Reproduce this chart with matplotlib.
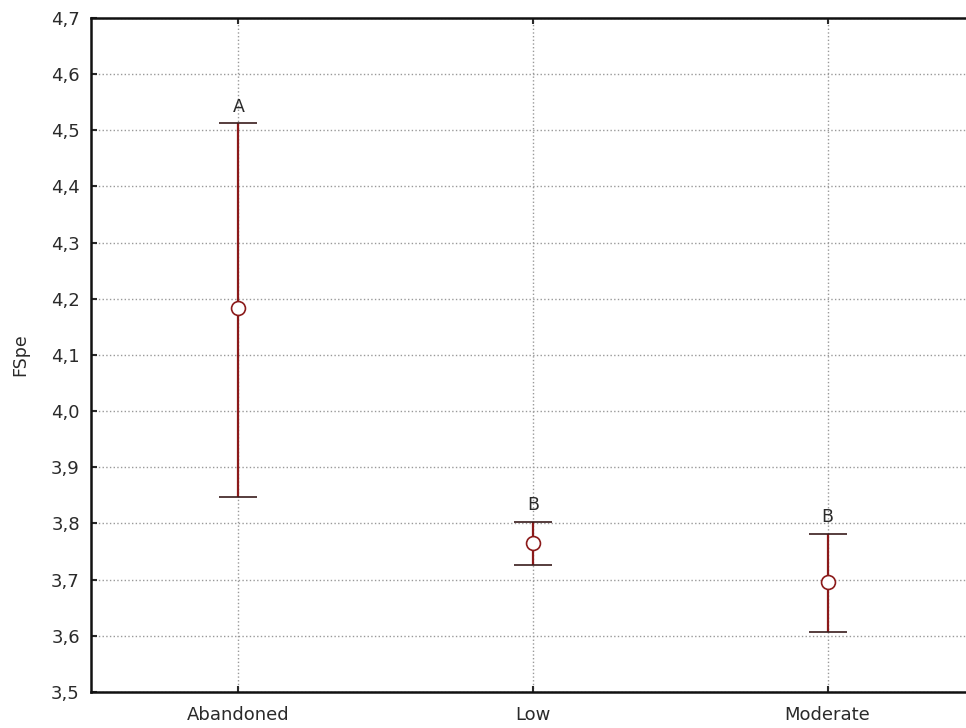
import numpy as np
import matplotlib.pyplot as plt
from matplotlib.ticker import FuncFormatter

# values
categories = ['Abandoned', 'Low', 'Moderate']
means = [4.183, 3.765, 3.696]
lower = [3.847, 3.726, 3.607]
upper = [4.512, 3.802, 3.781]
letters = ['A', 'B', 'B']

plt.rcParams['font.family'] = 'DejaVu Sans'

fig = plt.figure(facecolor='White', figsize=[9.66, 7.28], dpi=100)
ax = fig.add_axes([0.0942, 0.0495, 0.915, 0.926])

x = np.arange(len(categories))
means = np.array(means); lower = np.array(lower); upper = np.array(upper)
yerr = np.vstack([means - lower, upper - means])

eb = ax.errorbar(x, means, yerr=yerr, fmt='o', color='#8b1a1a', ecolor='#8b1a1a',
                 elinewidth=1.6, capsize=13.8, capthick=1.6, markersize=10,
                 markerfacecolor='white', markeredgecolor='#8b1a1a', markeredgewidth=1.2, zorder=3)
for cap in eb[1]:
    cap.set_markeredgecolor('#3a1c1c')

for xi, up, lab in zip(x, upper, letters):
    ax.text(xi, up + 0.014, lab, ha='center', va='bottom', fontsize=12.5, color='#2a2a2a')

ax.set_xlim(-0.5, 2.5)
ax.set_ylim(3.5, 4.7)
ax.set_xticks(x)
ax.set_xticklabels(categories)
ax.set_yticks(np.arange(3.5, 4.701, 0.1))
ax.yaxis.set_major_formatter(FuncFormatter(lambda v, p: ('%.1f' % v).replace('.', ',')))
ax.set_ylabel('FSpe', fontsize=12.5, labelpad=16, color='#2a2a2a')

ax.grid(True, linestyle=':', color='#999999', linewidth=1.0)
ax.set_axisbelow(True)
ax.tick_params(axis='both', which='major', direction='in', top=True, right=False,
               length=4, width=1.5, labelsize=13, colors='#2a2a2a', pad=8)
ax.tick_params(axis='x', pad=10)
for side in ['left', 'bottom', 'top']:
    ax.spines[side].set_linewidth(1.8)
    ax.spines[side].set_color('#111111')
ax.spines['right'].set_visible(False)

plt.savefig('out.png', dpi=100, facecolor='white')
